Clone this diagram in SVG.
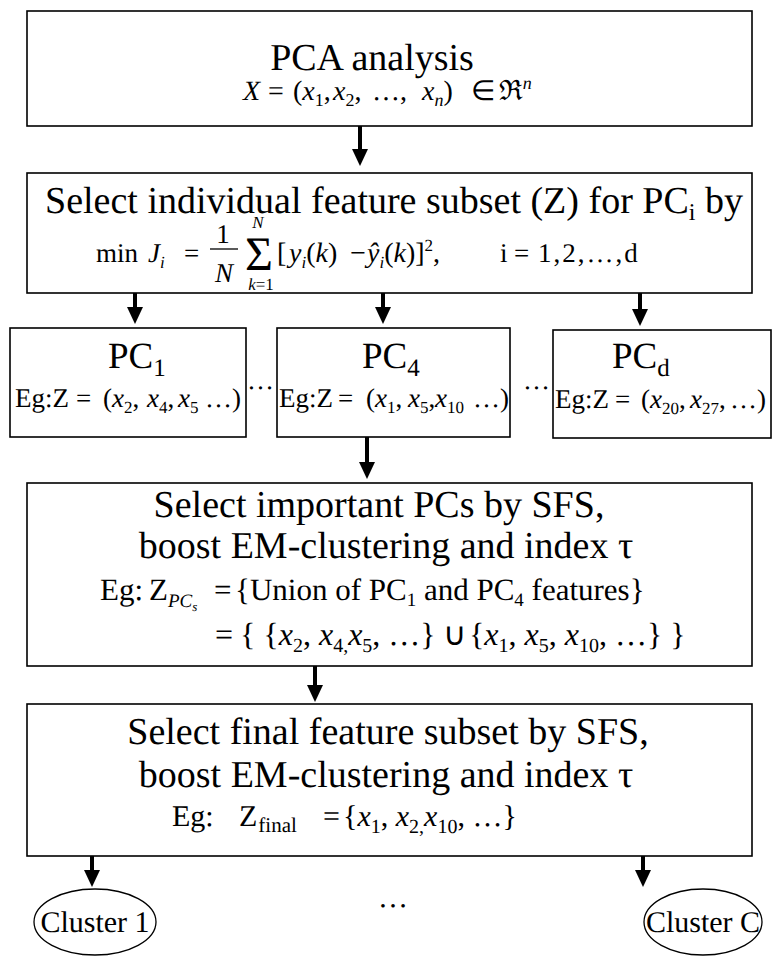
<svg xmlns="http://www.w3.org/2000/svg" width="772" height="956" viewBox="0 0 772 956" text-rendering="geometricPrecision">
<style>
text { fill: #000; font-family: "Liberation Serif", serif; }
.box { fill: #fff; stroke: #000; stroke-width: 1.6; }
.t { font-size: 38px; }
.m { font-size: 28px; }
.e { font-size: 27px; }
.i { font-style: italic; }
.arr { stroke: #000; stroke-width: 4; fill: none; marker-end: url(#ah); }
</style>
<defs>
<marker id="ah" markerUnits="userSpaceOnUse" markerWidth="18" markerHeight="17" refX="1" refY="8" orient="auto">
<path d="M0,0 L17,8 L0,16 z" fill="#000"/>
</marker>
</defs>

<g id="connectors">
<line class="arr" x1="360" y1="126" x2="360" y2="150"/>
<line class="arr" x1="135" y1="293" x2="135" y2="308"/>
<line class="arr" x1="383" y1="293" x2="383" y2="308"/>
<line class="arr" x1="640" y1="293" x2="640" y2="310"/>
<line class="arr" x1="367" y1="437" x2="367" y2="463"/>
<line class="arr" x1="315" y1="666" x2="315" y2="686"/>
<line class="arr" x1="92" y1="856" x2="92" y2="871"/>
<line class="arr" x1="643" y1="856" x2="643" y2="871"/>
</g>

<g id="pca" font-family="Liberation Serif, serif">
<rect class="box" x="27" y="11" width="725" height="115"/>
<text class="t" x="372" y="70" text-anchor="middle">PCA analysis</text>
<text class="m" y="100"><tspan x="243" class="i">X</tspan><tspan x="268">=</tspan><tspan x="293">(</tspan><tspan class="i">x</tspan><tspan dy="6" font-size="18">1</tspan><tspan dy="-6">,</tspan><tspan x="333" class="i">x</tspan><tspan dy="6" font-size="18">2</tspan><tspan dy="-6">,</tspan><tspan x="372">…,</tspan><tspan x="422" class="i">x</tspan><tspan dy="6" font-size="18" class="i">n</tspan><tspan dy="-6">)</tspan><tspan x="471">∈</tspan><tspan x="499">ℜ</tspan><tspan dy="-11" font-size="18" class="i">n</tspan></text>
</g>

<g id="select-individual" font-family="Liberation Serif, serif">
<rect class="box" x="27" y="173" width="725" height="120"/>
<text class="t" x="394" y="213" text-anchor="middle">Select individual feature subset (Z) for PC<tspan dy="7" font-size="24">i</tspan><tspan dy="-7"> by</tspan></text>
<text class="e" y="262"><tspan x="96">min</tspan><tspan x="148" class="i">J</tspan><tspan dy="6" font-size="17" class="i">i</tspan><tspan dy="-6" x="184">=</tspan></text>
<text class="e" x="223" y="243" text-anchor="middle">1</text>
<line x1="210" y1="249" x2="238" y2="249" stroke="#000" stroke-width="1.3"/>
<text class="e i" x="224" y="282" text-anchor="middle">N</text>
<text x="259" y="270" font-size="48" text-anchor="middle">Σ</text>
<text x="258" y="228" font-size="17" class="i" text-anchor="middle">N</text>
<text x="261" y="290" font-size="17" text-anchor="middle"><tspan class="i">k</tspan>=1</text>
<text font-size="28" y="262"><tspan x="277">[</tspan><tspan x="289" class="i">y</tspan><tspan dy="6" font-size="17" class="i">i</tspan><tspan dy="-6">(</tspan><tspan class="i">k</tspan><tspan>)</tspan><tspan x="350">−</tspan><tspan x="367" class="i">ŷ</tspan><tspan dy="6" font-size="17" class="i">i</tspan><tspan dy="-6">(</tspan><tspan class="i">k</tspan><tspan>)]</tspan><tspan dy="-11" font-size="17">2</tspan><tspan dy="11">,</tspan></text>
<text class="e" y="262"><tspan x="500">i</tspan><tspan x="514">=</tspan><tspan x="538" letter-spacing="2">1,2,…,d</tspan></text>
</g>

<g id="pc1" font-family="Liberation Serif, serif">
<rect class="box" x="10" y="328" width="236" height="109"/>
<text x="108" y="368" font-size="37">PC<tspan dy="8" font-size="25">1</tspan></text>
<text class="e" y="407"><tspan x="15">Eg:Z</tspan><tspan x="76">=</tspan><tspan x="103">(</tspan><tspan class="i">x</tspan><tspan dy="6" font-size="17">2</tspan><tspan dy="-6">,</tspan><tspan x="147" class="i">x</tspan><tspan dy="6" font-size="17">4</tspan><tspan dy="-6">,</tspan><tspan x="178" class="i">x</tspan><tspan dy="6" font-size="17">5</tspan><tspan dy="-6" x="205">…)</tspan></text>
</g>

<g id="pc4" font-family="Liberation Serif, serif">
<rect class="box" x="277" y="328" width="233" height="109"/>
<text x="362" y="368" font-size="37">PC<tspan dy="8" font-size="25">4</tspan></text>
<text class="e" y="407"><tspan x="279">Eg:Z</tspan><tspan x="338">=</tspan><tspan x="366">(</tspan><tspan class="i">x</tspan><tspan dy="6" font-size="17">1</tspan><tspan dy="-6">,</tspan><tspan x="408" class="i">x</tspan><tspan dy="6" font-size="17">5</tspan><tspan dy="-6">,</tspan><tspan x="435" class="i">x</tspan><tspan dy="6" font-size="17">10</tspan><tspan dy="-6" x="473">…)</tspan></text>
</g>

<g id="pcd" font-family="Liberation Serif, serif">
<rect class="box" x="553" y="330" width="218" height="108"/>
<text x="612" y="368" font-size="37">PC<tspan dy="8" font-size="25">d</tspan></text>
<text class="e" y="408"><tspan x="555">Eg:Z</tspan><tspan x="615">=</tspan><tspan x="641">(</tspan><tspan class="i">x</tspan><tspan dy="6" font-size="17">20</tspan><tspan dy="-6">,</tspan><tspan x="690" class="i">x</tspan><tspan dy="6" font-size="17">27</tspan><tspan dy="-6">,</tspan><tspan x="730">…)</tspan></text>
</g>

<g id="dots-pc" font-family="Liberation Serif, serif">
<text class="e" x="247" y="389">…</text>
<text class="e" x="523" y="389">…</text>
</g>

<g id="select-pcs" font-family="Liberation Serif, serif">
<rect class="box" x="27" y="483" width="725" height="183"/>
<text class="t" x="379" y="517" text-anchor="middle">Select important PCs by SFS,</text>
<text class="t" x="386" y="558" text-anchor="middle">boost EM-clustering and index τ</text>
<text y="600" font-size="31"><tspan x="100">Eg:</tspan><tspan x="149">Z</tspan><tspan dy="7" font-size="19" class="i">PC</tspan><tspan dy="4" font-size="13" class="i">s</tspan><tspan dy="-11" x="214">=</tspan><tspan x="235">{Union of PC</tspan><tspan dy="6" font-size="19">1</tspan><tspan dy="-6"> and PC</tspan><tspan dy="6" font-size="19">4</tspan><tspan dy="-6"> features}</tspan></text>
<text y="645" font-size="32"><tspan x="215">=</tspan><tspan x="240">{ {</tspan><tspan class="i">x</tspan><tspan dy="7" font-size="20">2</tspan><tspan dy="-7">, </tspan><tspan class="i">x</tspan><tspan dy="7" font-size="20">4,</tspan><tspan dy="-7" class="i">x</tspan><tspan dy="7" font-size="20">5</tspan><tspan dy="-7">, …}</tspan><tspan x="443">∪</tspan><tspan x="469">{</tspan><tspan class="i">x</tspan><tspan dy="7" font-size="20">1</tspan><tspan dy="-7">, </tspan><tspan class="i">x</tspan><tspan dy="7" font-size="20">5</tspan><tspan dy="-7">, </tspan><tspan class="i">x</tspan><tspan dy="7" font-size="20">10</tspan><tspan dy="-7">, …} }</tspan></text>
</g>

<g id="select-final" font-family="Liberation Serif, serif">
<rect class="box" x="27" y="704" width="725" height="152"/>
<text class="t" x="388" y="744" text-anchor="middle">Select final feature subset by SFS,</text>
<text class="t" x="386" y="787" text-anchor="middle">boost EM-clustering and index τ</text>
<text font-size="30" y="826"><tspan x="172">Eg:</tspan><tspan x="239">Z</tspan><tspan dy="6" dx="1" font-size="21">final</tspan><tspan dy="-6" x="323">=</tspan><tspan x="343">{</tspan><tspan class="i">x</tspan><tspan dy="7" font-size="20">1</tspan><tspan dy="-7">, </tspan><tspan class="i">x</tspan><tspan dy="7" font-size="20">2,</tspan><tspan dy="-7" class="i">x</tspan><tspan dy="7" font-size="20">10</tspan><tspan dy="-7">, …}</tspan></text>
</g>

<g id="cluster-1" font-family="Liberation Serif, serif">
<ellipse cx="95" cy="922" rx="61" ry="33" fill="#fff" stroke="#000" stroke-width="1.3"/>
<text x="95" y="932" font-size="30" text-anchor="middle">Cluster 1</text>
</g>

<g id="dots-clusters" font-family="Liberation Serif, serif">
<text x="393" y="907" font-size="30" text-anchor="middle">…</text>
</g>

<g id="cluster-c" font-family="Liberation Serif, serif">
<ellipse cx="703" cy="922" rx="59" ry="33" fill="#fff" stroke="#000" stroke-width="1.3"/>
<text x="703" y="932" font-size="30" text-anchor="middle">Cluster C</text>
</g>
</svg>
